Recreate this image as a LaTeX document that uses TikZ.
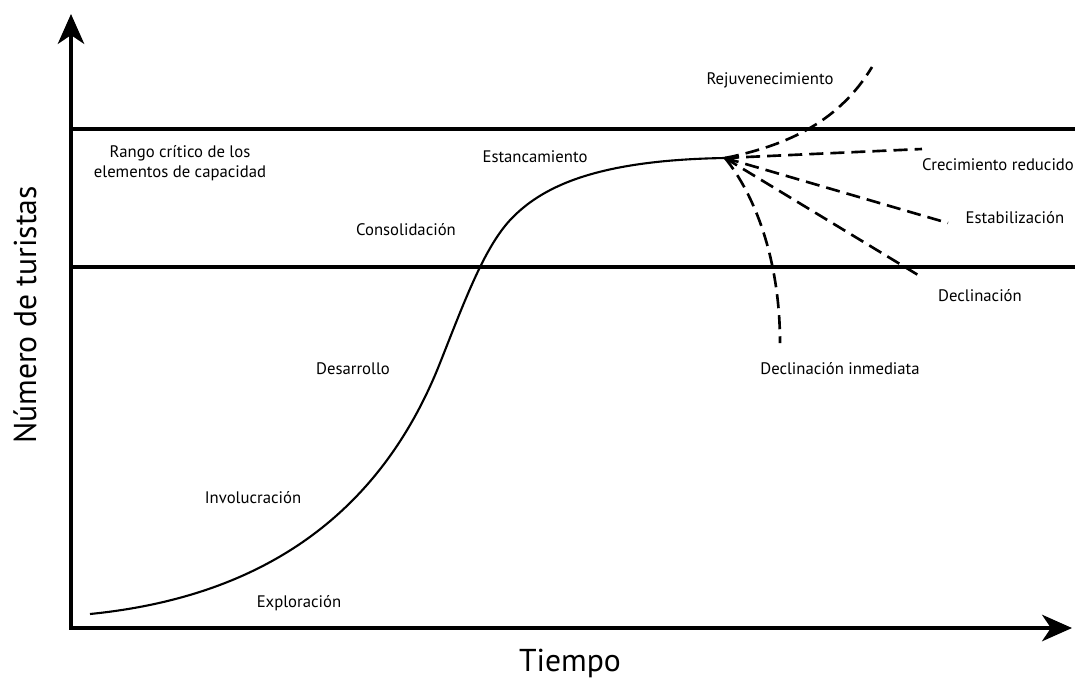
\documentclass[tikz,border=0pt]{standalone}
\usepackage{fontspec}
\setmainfont{PT Sans}
\usetikzlibrary{arrows.meta}
\begin{document}
\begin{tikzpicture}[x=0.02cm,y=-0.02cm,
    eje/.style={line width=2.3pt},
    limite/.style={line width=2pt},
    curva/.style={line width=1.2pt},
    rama/.style={line width=1.5pt,dash pattern=on 8pt off 4pt},
    etapa/.style={font=\fontsize{9.5}{11.5}\selectfont,inner sep=1pt},
    titulo/.style={font=\fontsize{18}{20}\selectfont,inner sep=0pt}]
  \useasboundingbox (0,0) rectangle (1075,680);
  % ejes y limites de capacidad
  \coordinate (ytop) at (71,14);
  \coordinate (xend) at (1072,628);
  \coordinate (a1) at (71,129);
  \coordinate (a2) at (1075,129);
  \coordinate (b1) at (71,267);
  \coordinate (b2) at (1075,267);
  \draw[eje,{Stealth[length=17pt,width=15pt,inset=5pt]}-{Stealth[length=17pt,width=15pt,inset=5pt]}] (ytop) |- (xend);
  \draw[limite] (a1) -- (a2);
  \draw[limite] (b1) -- (b2);
  % curva del ciclo de vida
  \coordinate (c0) at (90,614);
  \coordinate (c1) at (440,363);
  \coordinate (c2) at (513,217);
  \coordinate (p) at (725,158);
  \draw[curva] (c0) .. controls (230,600) and (370,540) .. (c1)
    .. controls (465,300) and (485,245) .. (c2)
    .. controls (545,185) and (600,160) .. (p);
  \draw
    (770,80) node[etapa] (rej){Rejuvenecimiento}
    (998,165) node[etapa] (cre){Crecimiento reducido}
    (1015,218) node[etapa] (est){Estabilización}
    (980,296) node[etapa] (dec){Declinación}
    (840,369) node[etapa] (inm){Declinación inmediata}
    (535,157) node[etapa] (stc){Estancamiento}
    (406,230) node[etapa] (con){Consolidación}
    (180,163) node[etapa,align=center] (ran){Rango crítico de los\\elementos de capacidad}
    (353,369) node[etapa] (des){Desarrollo}
    (253,498) node[etapa] (inv){Involucración}
    (299,603) node[etapa] (exp){Exploración};
  \coordinate (r1) at (872,67);
  \coordinate (r2) at (922,149);
  \coordinate (r3) at (948,223);
  \coordinate (r4) at (923,278);
  \coordinate (r5) at (780,343);
  \begin{scope}[rama]
    \draw (p) .. controls (790,145) and (840,120) .. (r1);
    \draw (p) -- (r2);
    \draw (p) -- (r3);
    \draw (p) -- (r4);
    \draw (p) .. controls (755,195) and (780,260) .. (r5);
  \end{scope}
  \node[titulo,rotate=90] (ny) at (25,315) {Número de turistas};
  \node[titulo] (nx) at (570,663) {Tiempo};
\end{tikzpicture}
\end{document}
